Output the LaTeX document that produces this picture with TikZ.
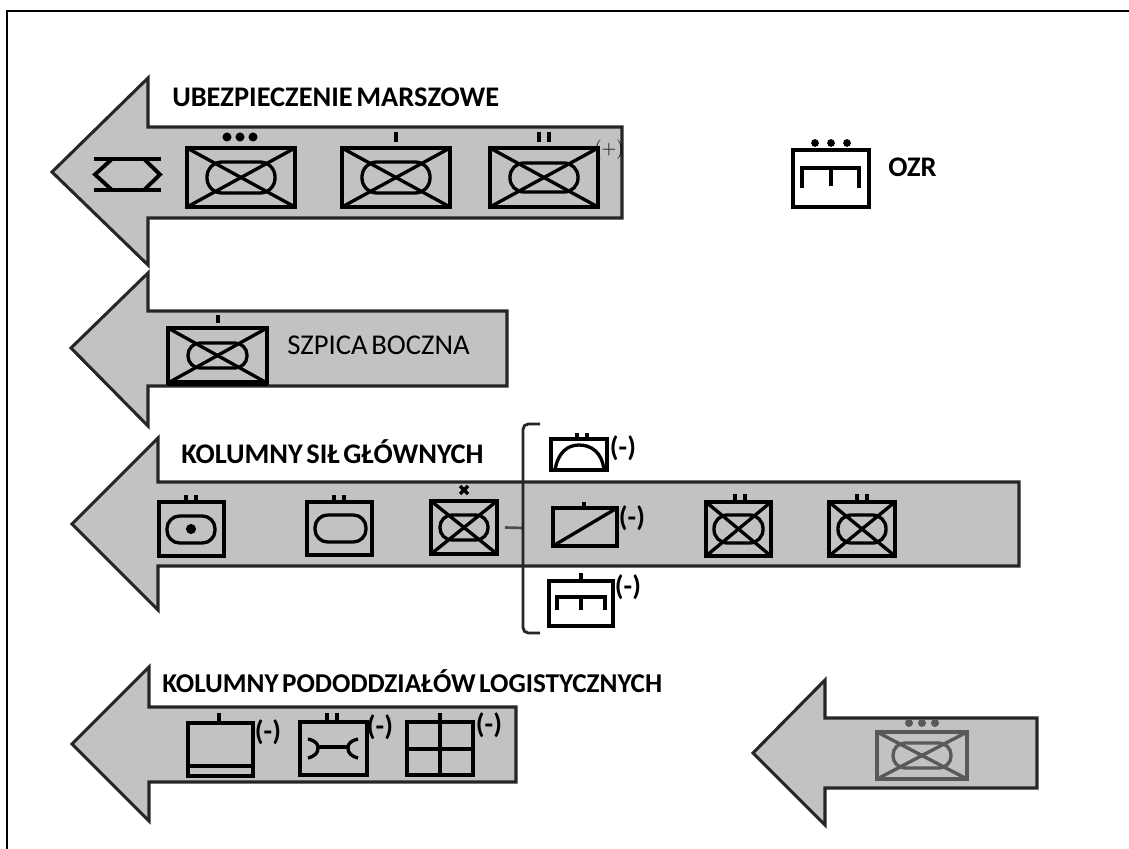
\documentclass[tikz,border=0pt]{standalone}
\usepackage{fontspec}
\newfontfamily\calibri[WordSpace=0.55]{Carlito}
\usepackage{tikz}
\usetikzlibrary{fit,calc}

\tikzset{
    strz/.style={draw=black!85, fill=black!24, line width=2.3pt, line join=miter},
    unit/.style={draw, line width=2.7pt, inner sep=0pt, outer sep=0pt},
    owal/.style={draw, line width=2.5pt, inner sep=0pt, outer sep=0pt},
    cienka/.style={line width=2.5pt},
    tick/.style={line width=2.6pt},
    opis/.style={font=\calibri\bfseries\fontsize{21.3}{24}\selectfont, anchor=west, inner sep=0pt},
    minus/.style={font=\calibri\bfseries\fontsize{21}{24}\selectfont, inner sep=0pt}
}
% prostokat: nazwa, x1, y1, x2, y2
\newcommand{\ramka}[5]{\node[unit, fit={(#2,#3) (#4,#5)}] (#1) {};}
% pododdzial z krzyzem i owalem: nazwa, x1, y1, x2, y2, wciecie x, wciecie y
\newcommand{\zmech}[7]{
    \ramka{#1}{#2}{#3}{#4}{#5}
    \node[owal, rounded corners={(#5-#3-2*#7)*0.36pt}, fit={({#2+#6},{#3+#7}) ({#4-#6},{#5-#7})}] (#1o) {};
    \draw[cienka] (#1.north west) -- (#1.south east);
    \draw[cienka] (#1.north east) -- (#1.south west);
}
% znaki szczebla nad znakiem: x, gora, dol
\newcommand{\raz}[3]{\draw[tick] (#1,#2) -- (#1,#3);}
\newcommand{\dwa}[3]{\raz{#1-5}{#2}{#3}\raz{#1+5}{#2}{#3}}
\newcommand{\trzy}[3]{\fill (#1-13,#2) circle (#3) (#1,#2) circle (#3) (#1+13,#2) circle (#3);}

\begin{document}
\begin{tikzpicture}[x=0.75pt, y=-0.75pt]
\useasboundingbox (0,0) rectangle (1129,849);

\coordinate (r1) at (1129,11);
\coordinate (r2) at (7,11);
\coordinate (r3) at (7,849);
\draw[line width=1.9pt] (r1) -- (r2) -- (r3);

% ubezpieczenie marszowe
\draw[strz] (52,172) -- (148,78) -- (148,127) -- (622,127) -- (622,218) -- (148,218) -- (148,265) -- cycle;
\draw[line width=2.9pt] (94,159) -- (161,159) (94,190) -- (161,190);
\draw[line width=2.9pt] (112,159) -- (95,174.5) -- (112,190) (144,159) -- (160,174.5) -- (144,190);
\zmech{m1}{187}{148}{295}{207}{20}{14}
\zmech{m2}{342}{148}{450}{207}{20}{14}
\zmech{m3}{490}{148}{598}{207}{20}{15}
\trzy{240}{137}{3.4pt}
\raz{396}{132}{142}
\dwa{544}{132}{142}
\node[inner sep=0pt, font=\fontsize{14.5}{16}\selectfont] (plus) at (609,150) {(+)};
\node[opis] (t1) at (172,97) {UBEZPIECZENIE MARSZOWE};

% ozr
\node[unit, line width=2.3pt, fit={(793,150) (869,207)}] (o) {};
\fill (815,143) circle (2.9pt) (831,143) circle (2.9pt) (847,143) circle (2.9pt);
\draw[tick] (802,188) -- (802,168) -- (859,168) -- (859,188) (831,168) -- (831,186);
\node[opis] (t2) at (888,167) {OZR};

% szpica boczna
\draw[strz] (71,348) -- (148,273) -- (148,311) -- (507,311) -- (507,386) -- (148,386) -- (148,426) -- cycle;
\zmech{s1}{168}{328}{267}{383}{20}{15}
\draw[line width=4.4pt] (s1.south west) -- (s1.south east);
\raz{218}{315}{323}
\node[opis, font=\calibri\fontsize{21.5}{24}\selectfont] (t3) at (287,345) {SZPICA BOCZNA};

% kolumny sil glownych
\draw[strz] (72,524) -- (158,438) -- (158,482) -- (1019,482) -- (1019,566) -- (158,566) -- (158,610) -- cycle;
\node[opis] (t4) at (181,452) {KOLUMNY SIŁ GŁÓWNYCH};
\ramka{g1}{159}{502}{224}{556}
\node[owal, rounded corners=9.5pt, fit={(167,516) (215,543)}] (g1o) {};
\fill (191,529) circle (3.8pt);
\dwa{191}{495}{502}
\ramka{g2}{307}{502}{372}{555}
\node[owal, rounded corners=9.5pt, fit={(315,515) (366,542)}] (g2o) {};
\dwa{339}{495}{502}
\zmech{g3}{431}{501}{497}{554}{9}{14}
\draw[line width=2.4pt] (460,486) -- (468,494) (468,486) -- (460,494);

% klamra
\coordinate (k) at (523,528);
\draw[line width=2pt, black!70] (g3.east) ++(6pt,0) -- (k);
\draw[line width=2.1pt, black!85, rounded corners=4pt] (540,424) -- (523,424) -- (523,633) -- (540,633);

\node[unit, line width=2.3pt, fit={(551,439) (607,470)}] (g4) {};
\draw[cienka] (555,470) .. controls (558,452) and (568,445) .. (579,445) .. controls (591,445) and (602,452) .. (604,470);
\dwa{582}{433}{439}
\node[minus] (g4m) at (623,448) {(-)};
\ramka{g5}{553}{508}{617}{546}
\draw[cienka] (g5.south west) -- (g5.north east);
\raz{584}{502}{508}
\node[minus] (g5m) at (632,518) {(-)};
\ramka{g6}{549}{581}{613}{626}
\draw[tick] (557,610) -- (557,597) -- (605,597) -- (605,610) (581,597) -- (581,610);
\raz{581}{573}{581}
\node[minus] (g6m) at (628,587) {(-)};
\zmech{g7}{706}{502}{771}{556}{8}{13}
\dwa{740}{494}{502}
\zmech{g8}{829}{502}{895}{556}{9}{13}
\dwa{862}{494}{502}

% kolumny pododdzialow logistycznych
\draw[strz] (72,744) -- (149,667) -- (149,707) -- (516,707) -- (516,782) -- (149,782) -- (149,821) -- cycle;
\node[opis, font=\calibri\bfseries\fontsize{20.4}{24}\selectfont] (t5) at (162,681) {KOLUMNY PODODDZIAŁÓW LOGISTYCZNYCH};
\ramka{l1}{188}{723}{253}{776}
\draw[cienka] (188,766) -- (253,766);
\raz{219}{713}{723}
\node[minus] (l1m) at (268,732) {(-)};
\ramka{l2}{300}{722}{367}{775}
\dwa{332}{713}{722}
\draw[cienka] (318,747) -- (348,747);
\draw[cienka] (308,739) .. controls (316,741) and (318,744) .. (318,748) .. controls (318,753) and (315,756) .. (308,758);
\draw[cienka] (358,739) .. controls (350,741) and (348,744) .. (348,748) .. controls (348,753) and (351,756) .. (358,758);
\node[minus] (l2m) at (380,727) {(-)};
\ramka{l3}{407}{722}{473}{775}
\draw[cienka] (440,713) -- (440,775) (407,749) -- (473,749);
\node[minus] (l3m) at (489,725) {(-)};

% dolna strzalka
\draw[strz] (753,753) -- (825,680) -- (825,718) -- (1037,718) -- (1037,788) -- (825,788) -- (825,825) -- cycle;
\begin{scope}[color=black!65]
\zmech{d1}{877}{732}{967}{779}{16}{11}
\trzy{922}{723}{3pt}
\end{scope}
\end{tikzpicture}
\end{document}
